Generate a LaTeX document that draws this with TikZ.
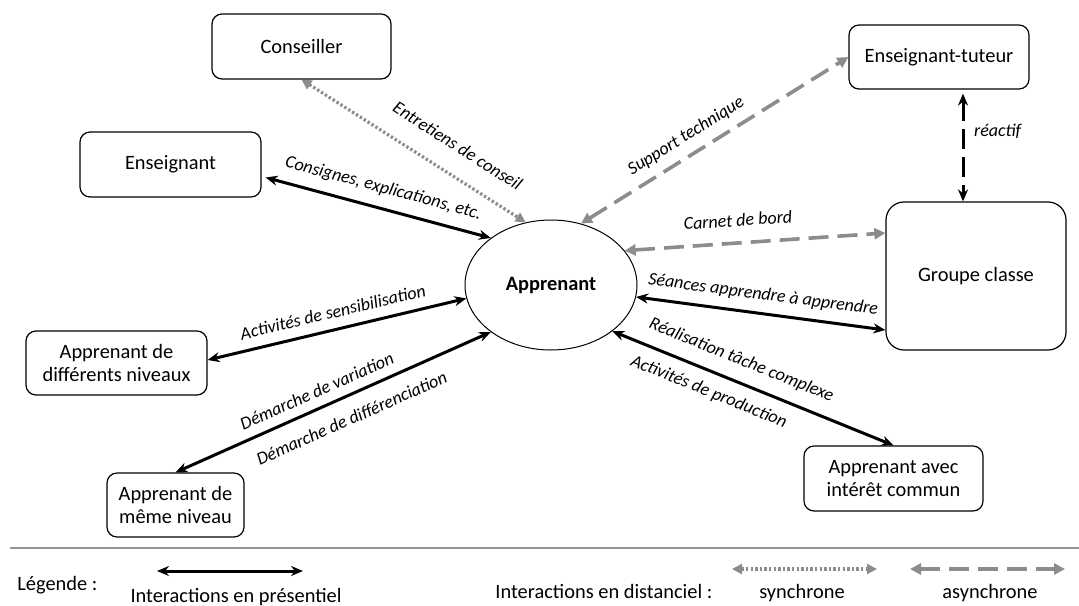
\documentclass[tikz,border=0pt]{standalone}
\usepackage{fontspec}
\setmainfont{Carlito}
\usepackage{xcolor}
\usepackage{tikz}
\usetikzlibrary{shapes.geometric, arrows.meta, positioning}
\definecolor{distgray}{RGB}{140,140,140}
\definecolor{rulegray}{RGB}{150,150,150}

\begin{document}
\begin{tikzpicture}[
    x=0.5pt, y=-0.5pt,
    box/.style={rectangle, draw, rounded corners=5pt, line width=0.6pt, minimum width=89.5pt, minimum height=32.5pt, align=center, font=\fontsize{10.2}{11.8}\selectfont},
    bubble/.style={ellipse, draw, line width=0.5pt, minimum width=86pt, minimum height=65pt, inner sep=0pt, font=\fontsize{10.2}{11.8}\selectfont\bfseries},
    lab/.style={text=black, font=\fontsize{9}{11}\selectfont\itshape},
    legtext/.style={inner sep=0pt, font=\fontsize{10.2}{11.8}\selectfont},
    presentiel/.style={{Stealth[length=6pt,width=5pt]}-{Stealth[length=6pt,width=5pt]}, line width=1.5pt},
    reactif/.style={presentiel, dash pattern=on 10pt off 4pt},
    synchrone/.style={{Triangle[length=5pt,width=5pt]}-{Triangle[length=5pt,width=5pt]}, distgray, line width=1.6pt, dash pattern=on 1.2pt off 1.1pt},
    asynchrone/.style={{Triangle[length=5.5pt,width=5.5pt]}-{Triangle[length=5.5pt,width=5.5pt]}, distgray, line width=1.8pt, dash pattern=on 10pt off 4.5pt}
]
\useasboundingbox (0,0) rectangle (1079,605);

\node[bubble] (apprenant) at (551,285) {Apprenant};
\node[box] (conseiller) at (301.5,46.5) {Conseiller};
\node[box, minimum width=90.5pt] (enseignant) at (170.5,164.5) {Enseignant};
\node[box, minimum width=90pt, minimum height=32pt] (tuteur) at (939,57) {Enseignant-tuteur};
\node[box, rounded corners=9pt, minimum width=90pt, minimum height=74pt] (groupe) at (976,276) {Groupe classe};
\node[box, minimum width=90.5pt, minimum height=32pt] (differents) at (116.5,363) {Apprenant de\\différents niveaux};
\node[box, minimum width=68.5pt, minimum height=32pt] (meme) at (175.5,505) {Apprenant de\\même niveau};
\node[box] (interet) at (893.5,478.5) {Apprenant avec\\intérêt commun};

\draw[synchrone] (conseiller.south) -- node[lab, sloped, above=6.8pt, pos=0.63] {Entretiens de conseil} (apprenant.112);
\draw[presentiel] ([shift={(2pt,-6.5pt)}]enseignant.east) -- node[lab, sloped, above=2pt, pos=0.5] {Consignes, explications, etc.} (apprenant.142);
\draw[asynchrone] (apprenant.64) -- node[lab, sloped, above=1.3pt, pos=0.43] {Support technique} (tuteur.west);
\coordinate (reactiftop) at ([xshift=12pt]tuteur.south);
\draw[reactif, shorten <=2pt] (reactiftop) -- node[lab, right=1.5pt, pos=0.37] {réactif} (reactiftop |- groupe.north);
\draw[asynchrone] (apprenant.25) -- node[lab, sloped, above=4pt, pos=0.44] {Carnet de bord} ([yshift=21.5pt]groupe.west);
\draw[presentiel] (apprenant.-8) -- node[lab, sloped, above=1.4pt, pos=0.5] {Séances apprendre à apprendre} ([yshift=-27pt]groupe.west);
\draw[presentiel] (apprenant.-37) -- node[lab, sloped, above=2.8pt, pos=0.43] {Réalisation tâche complexe}
    node[lab, sloped, below=2.1pt, pos=0.37] {Activités de production} (interet.north);
\draw[presentiel] ([yshift=1.5pt]differents.east) -- node[lab, sloped, above=1.6pt, pos=0.5] {Activités de sensibilisation} (apprenant.189);
\draw[presentiel] (meme.north) -- node[lab, sloped, above=1.3pt, pos=0.47] {Démarche de variation}
    node[lab, sloped, below=3.8pt, pos=0.53] {Démarche de différenciation} (apprenant.218);

\draw[rulegray, line width=0.7pt] (10,548) -- (1079,548);
\node[legtext, anchor=base west] (legende) at (17,590) {Légende :};
\coordinate (presL) at (157,571);
\coordinate (presR) at (303,571);
\draw[presentiel] (presL) -- (presR);
\node[legtext, anchor=base] (prestext) at (236,602) {Interactions en présentiel};
\node[legtext, anchor=base west] (disttext) at (495,598) {Interactions en distanciel :};
\coordinate (syncL) at (732,569);
\coordinate (syncR) at (877,569);
\draw[synchrone] (syncL) -- (syncR);
\node[legtext, anchor=base] (synctext) at (802,598) {synchrone};
\coordinate (asyncL) at (910,569);
\coordinate (asyncR) at (1065,569);
\draw[asynchrone] (asyncL) -- (asyncR);
\node[legtext, anchor=base] (asynctext) at (990,598) {asynchrone};

\end{tikzpicture}
\end{document}
